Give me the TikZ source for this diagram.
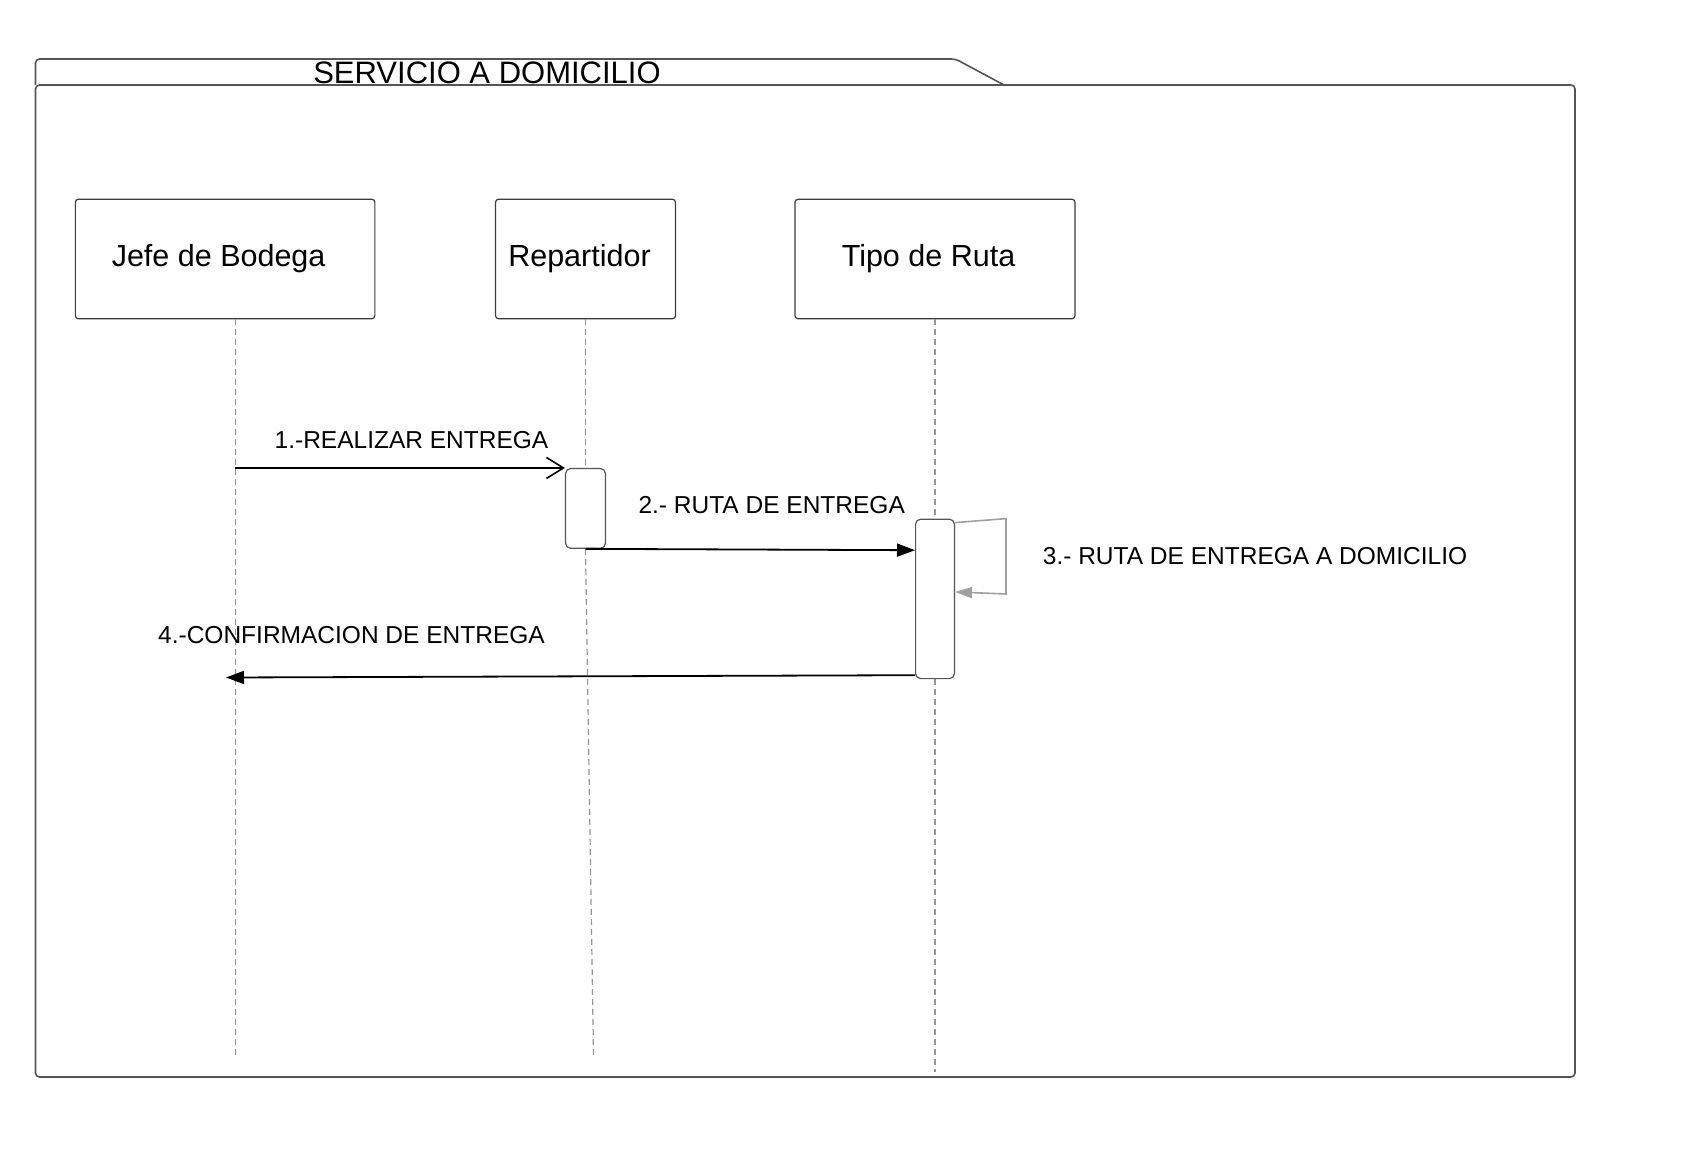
\documentclass[tikz,border=0pt]{standalone}
\usepackage{fontspec}
\setmainfont{Liberation Sans}
\usepackage{xcolor}
\definecolor{framegray}{RGB}{85,85,85}
\definecolor{boxgray}{RGB}{60,60,60}
\definecolor{lifegray}{RGB}{150,150,150}
\definecolor{selfgray}{RGB}{160,160,160}
\usepackage{tikz}
\usetikzlibrary{arrows.meta,positioning}

\begin{document}
\begin{tikzpicture}[x=1pt,y=-1pt,
  frame/.style={draw=framegray,line width=1.6pt},
  actor/.style={rectangle,rounded corners=3pt,draw=boxgray,line width=1.2pt,
                minimum height=119.5pt,inner sep=0pt,font=\fontsize{30.5}{36}\selectfont},
  act/.style={rectangle,rounded corners=5pt,draw=framegray,fill=white,line width=1.2pt,
              inner sep=0pt},
  life/.style={draw=lifegray,line width=1.2pt,dash pattern=on 6pt off 4pt},
  msg/.style={font=\fontsize{24.5}{29}\selectfont,inner sep=0pt},
  call/.style={-{Straight Barb[length=17pt,width=21pt,line width=1.6pt]},line width=1.8pt},
  ret/.style={-{Triangle[length=18pt,width=13pt]},line width=1.8pt},
  selfmsg/.style={-{Triangle[length=17pt,width=11pt]},draw=selfgray,line width=1.6pt}
]
  \useasboundingbox (0,0) rectangle (1689,1153);

  % frame
  \draw[frame,rounded corners=4pt] (35.5,85) rectangle (1575,1077);
  \draw[frame,rounded corners=4pt] (35.5,85) -- (35.5,59) -- (955.5,59) -- (1004,85);
  \node[font=\fontsize{31}{37}\selectfont,anchor=base,inner sep=0pt] (title) at (487,83.5) {SERVICIO A DOMICILIO};

  % lifelines
  \node[actor,minimum width=299.5pt] (jefe) at (225.1,259) {\hspace*{-13pt}Jefe de Bodega};
  \node[actor,minimum width=179.9pt] (rep) at (585.5,259) {\hspace*{-12pt}Repartidor};
  \node[actor,minimum width=280pt] (tipo) at (935,259) {\hspace*{-13pt}Tipo de Ruta};

  \coordinate (jl) at ([xshift=10pt]jefe.south);
  \draw[life] (jl) -- ++(0,737);
  \draw[life] (tipo.south) -- ++(0,753);

  \node[act,minimum width=39.9pt,minimum height=79.7pt] (actR) at (585.5,508.4) {};
  \node[act,minimum width=38.8pt,minimum height=159.4pt] (actT) at (935,598.9) {};

  \draw[life] (rep.south) -- (actR.north);
  \draw[life] (actR.south) -- ++(8,507);

  % messages
  \draw[call] (jl |- actR.north west) -- (actR.north west);
  \node[msg] (m1) at (411.5,440.5) {1.-REALIZAR ENTREGA};

  \draw[ret] (actR.south) -- ([yshift=-31.6pt]actT.north west);
  \node[msg] (m2) at (771.7,505.3) {2.- RUTA DE ENTREGA};

  \draw[selfmsg] ([yshift=-4pt]actT.north east) -- ++(51,-4) -- ++(0,75.4) -- ([yshift=-73.3pt]actT.north east);
  \node[msg,anchor=west] (m3) at (1042.7,555.8) {3.- RUTA DE ENTREGA A DOMICILIO};

  \coordinate (conf) at (226,677.5);
  \draw[ret] ([yshift=4pt]actT.south west) -- (conf);
  \node[msg] (m4) at (351.5,635.3) {4.-CONFIRMACION DE ENTREGA};
\end{tikzpicture}
\end{document}
